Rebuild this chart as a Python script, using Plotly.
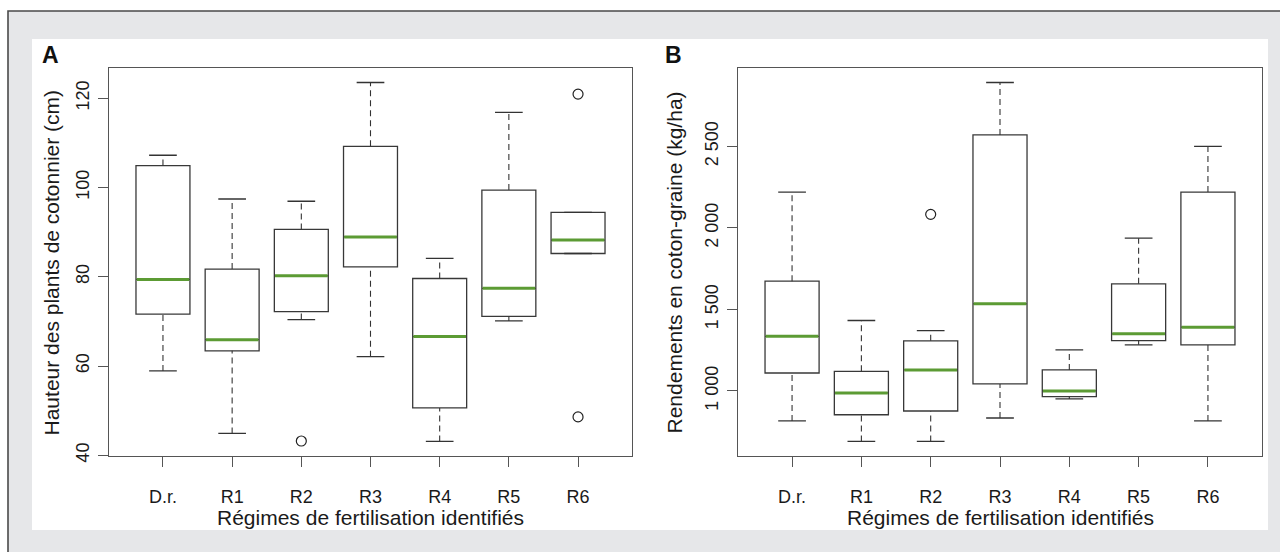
import plotly.graph_objects as go

# ---------------- data ----------------
categories = ["D.r.", "R1", "R2", "R3", "R4", "R5", "R6"]

# Panel A : plant height (cm)
h_low = [58.9, 44.9, 70.4, 62.1, 43.1, 70.1, 85.2]
h_q1 = [71.6, 63.4, 72.2, 82.2, 50.6, 71.1, 85.2]
h_med = [79.4, 65.9, 80.2, 88.9, 66.6, 77.4, 88.2]
h_q3 = [104.9, 81.7, 90.6, 109.2, 79.6, 99.4, 94.4]
h_high = [107.2, 97.4, 96.9, 123.5, 84.1, 116.8, 94.4]
h_out_cat = ["R2", "R6", "R6"]
h_out_val = [43.2, 120.9, 48.6]
h_ticks = [40, 60, 80, 100, 120]
h_ticktext = ["40", "60", "80", "100", "120"]

# Panel B : seed-cotton yield (kg/ha)
y_low = [816, 690, 690, 834, 951, 1283, 816]
y_q1 = [1110, 854, 877, 1043, 965, 1309, 1283]
y_med = [1335, 988, 1129, 1534, 1000, 1350, 1391]
y_q3 = [1673, 1120, 1307, 2570, 1129, 1657, 2220]
y_high = [2220, 1432, 1370, 2892, 1252, 1937, 2500]
y_out_cat = ["R2"]
y_out_val = [2083]
y_ticks = [1000, 1500, 2000, 2500]
y_ticktext = ["1 000", "1 500", "2 000", "2 500"]

xlabel = "Régimes de fertilisation identifiés"
ylabel_a = "Hauteur des plants de cotonnier (cm)"
ylabel_b = "Rendements en coton-graine (kg/ha)"

# ---------------- style ----------------
REF_W, REF_H = 1280, 552   # reference frame used to express positions
FIG_W, FIG_H = 1280, 560   # height of the area that is actually photographed
FONT = "Liberation Sans, Arial, sans-serif"
GREEN = "#5c9b34"
BOXLINE = "#383838"
FRAME = "#555555"
BG = "#e6e7e9"
TXT = "#1a1a1a"
BOXW = 0.78
CAPHALF = 0.2

pos = list(range(1, len(categories) + 1))
idx = {c: p for c, p in zip(categories, pos)}


def px(x):
    return x / REF_W


def py(y):
    return 1 - y / REF_H


fig = go.Figure()


def add_panel(xa, ya, low, q1, med, q3, high, out_cat, out_val):
    fig.add_trace(go.Box(
        x=pos, q1=q1, median=med, q3=q3, lowerfence=q1, upperfence=q3,
        width=BOXW, whiskerwidth=0, fillcolor="white",
        line=dict(color=BOXLINE, width=1.3), boxpoints=False,
        xaxis=xa, yaxis=ya, showlegend=False, hoverinfo="skip"))
    # dashed whiskers
    wx, wy = [], []
    for p, lo, a, b, hi in zip(pos, low, q1, q3, high):
        wx += [p, p, None, p, p, None]
        wy += [b, hi, None, lo, a, None]
    fig.add_trace(go.Scatter(x=wx, y=wy, mode="lines",
                             line=dict(color="#333333", width=1.1, dash="6px,4px"),
                             xaxis=xa, yaxis=ya, showlegend=False, hoverinfo="skip"))
    # caps
    cx, cy = [], []
    for p, lo, hi in zip(pos, low, high):
        cx += [p - CAPHALF, p + CAPHALF, None, p - CAPHALF, p + CAPHALF, None]
        cy += [hi, hi, None, lo, lo, None]
    fig.add_trace(go.Scatter(x=cx, y=cy, mode="lines",
                             line=dict(color="#333333", width=1.3),
                             xaxis=xa, yaxis=ya, showlegend=False, hoverinfo="skip"))
    # green medians
    mx, my = [], []
    half = BOXW / 2 - 0.01
    for p, m in zip(pos, med):
        mx += [p - half, p + half, None]
        my += [m, m, None]
    fig.add_trace(go.Scatter(x=mx, y=my, mode="lines",
                             line=dict(color=GREEN, width=3),
                             xaxis=xa, yaxis=ya, showlegend=False, hoverinfo="skip"))
    # outliers
    fig.add_trace(go.Scatter(x=[idx[c] for c in out_cat], y=out_val, mode="markers",
                             marker=dict(symbol="circle-open", size=10,
                                         color="#222222", line=dict(width=1.2)),
                             xaxis=xa, yaxis=ya, showlegend=False, hoverinfo="skip"))


add_panel("x", "y", h_low, h_q1, h_med, h_q3, h_high, h_out_cat, h_out_val)
add_panel("x2", "y2", y_low, y_q1, y_med, y_q3, y_high, y_out_cat, y_out_val)


def yrange(low, high, outv):
    lo = min(low + outv)
    hi = max(high + outv)
    d = (hi - lo) * 0.04
    return [lo - d, hi + d]


xr = [0.5 - 0.04 * len(categories), len(categories) + 0.5 + 0.04 * len(categories)]

axis_common = dict(showline=True, mirror=True, linecolor=FRAME, linewidth=1.3,
                   showgrid=False, zeroline=False, ticks="outside", ticklen=10,
                   tickcolor=FRAME, tickwidth=1.2,
                   tickfont=dict(family=FONT, size=18, color=TXT))

ydom = [py(455), py(68)]
fig.update_layout(
    width=FIG_W, height=FIG_H, margin=dict(l=0, r=0, t=0, b=0),
    paper_bgcolor="white", plot_bgcolor="white",
    xaxis=dict(domain=[px(109), px(632)], range=xr, tickmode="array",
               tickvals=pos, ticktext=categories, ticklabelstandoff=14, anchor="y",
               **axis_common),
    yaxis=dict(domain=ydom, range=yrange(h_low, h_high, h_out_val), tickmode="array",
               tickvals=h_ticks, ticktext=h_ticktext, tickangle=-90,
               ticklabelstandoff=2, anchor="x", **axis_common),
    xaxis2=dict(domain=[px(738), px(1262)], range=xr, tickmode="array",
                tickvals=pos, ticktext=categories, ticklabelstandoff=14, anchor="y2",
                **axis_common),
    yaxis2=dict(domain=ydom, range=yrange(y_low, y_high, y_out_val), tickmode="array",
                tickvals=y_ticks, ticktext=y_ticktext, tickangle=-90,
                ticklabelstandoff=2, anchor="x2", **axis_common),
    shapes=[
        dict(type="rect", xref="paper", yref="paper", x0=px(8), x1=px(1300),
             y0=py(11), y1=py(600), fillcolor=BG, line=dict(color="#4a4a4a", width=1.6),
             layer="below"),
        dict(type="rect", xref="paper", yref="paper", x0=px(32), x1=px(1268),
             y0=py(39), y1=py(529), fillcolor="white", line=dict(width=0),
             layer="below"),
    ],
)

title_font = dict(family=FONT, size=21, color=TXT)
ann = [
    dict(text="<b>A</b>", x=px(50), y=py(55), font=dict(family=FONT, size=23, color="#111111")),
    dict(text="<b>B</b>", x=px(673), y=py(55), font=dict(family=FONT, size=23, color="#111111")),
    dict(text=xlabel, x=px(370.5), y=py(517), font=title_font),
    dict(text=xlabel, x=px(1000), y=py(517), font=title_font),
    dict(text=ylabel_a, x=px(51), y=py(262), textangle=-90, font=title_font),
    dict(text=ylabel_b, x=px(674), y=py(262), textangle=-90, font=title_font),
]
for a in ann:
    fig.add_annotation(xref="paper", yref="paper", showarrow=False,
                       xanchor="center", yanchor="middle", **a)

# remove the default 8px body margin so the figure sits exactly in the window
fig.write_html("out.html",
               config={"displayModeBar": False},
               post_script="document.body.style.margin='0px';"
                           "document.body.style.overflow='hidden';")
